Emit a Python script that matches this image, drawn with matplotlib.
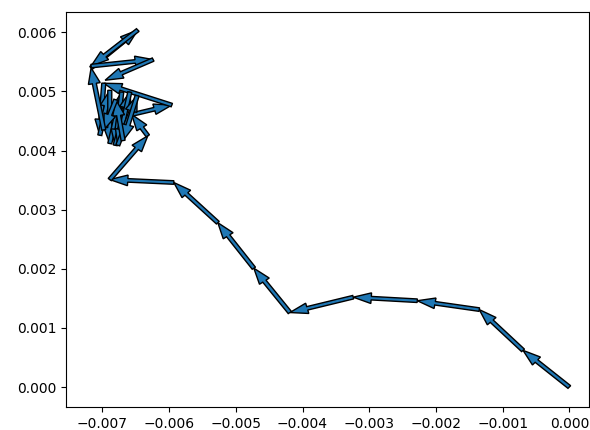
import matplotlib
matplotlib.use("Agg")
import matplotlib.pyplot as plt

# Path of successive positions; each step is drawn as an arrow
xs = [0.0, -0.000694, -0.00135, -0.00228, -0.00324, -0.00419, -0.00473,
      -0.00527, -0.00593, -0.00689, -0.00632, -0.00656, -0.00596, -0.00698,
      -0.00704, -0.00689, -0.00689, -0.00671, -0.00681, -0.00659, -0.00677,
      -0.00648, -0.00669, -0.00680, -0.00698, -0.00717, -0.00647, -0.00717,
      -0.00624, -0.00696]
ys = [0.0, 0.00062, 0.00131, 0.00146, 0.00152, 0.00126, 0.00201,
      0.00278, 0.00346, 0.00351, 0.00425, 0.00461, 0.00477, 0.00514,
      0.00426, 0.00502, 0.00412, 0.00499, 0.00409, 0.00499, 0.00409,
      0.00493, 0.00417, 0.00486, 0.00435, 0.00540, 0.00604, 0.00543,
      0.00554, 0.00519]

fig = plt.figure(figsize=(5.9, 4.3), dpi=100)
ax = fig.add_axes([0.1119, 0.0528, 0.8864, 0.9200])

for i in range(len(xs) - 1):
    ax.arrow(xs[i], ys[i], xs[i + 1] - xs[i], ys[i + 1] - ys[i],
             width=0.00006, head_width=0.00018, length_includes_head=True)

ax.set_xlim(-0.007546, 0.000295)
ax.set_ylim(-0.000343, 0.00635)

fig.savefig("out.png", dpi=100)
